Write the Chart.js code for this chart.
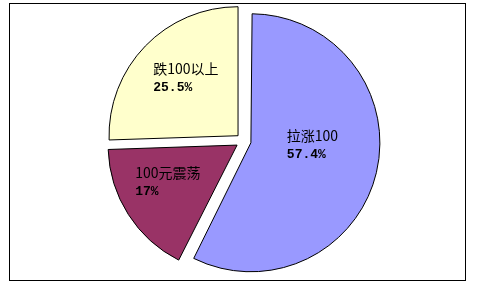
<!DOCTYPE html>
<html>
<head>
<meta charset="utf-8">
<script src="https://cdn.jsdelivr.net/npm/chart.js@4/dist/chart.umd.min.js"></script>
<style>
  html, body { margin: 0; padding: 0; background: #fff; }
  #wrap { width: 478px; height: 289px; }
</style>
</head>
<body>
<div id="wrap"><canvas id="c" width="478" height="289"></canvas></div>
<script>
// ---- data ----
const categories = ['拉涨100', '100元震荡', '跌100以上'];
const values = [57.4, 17, 25.5];
const valueLabels = ['57.4%', '17%', '25.5%'];

// ---- style ----
const colors = ['#9999FF', '#993366', '#FFFFCC'];
const PIE_RADIUS = 129;
const SLICE_OFFSET = 30.4; // Chart.js draws offset/4
const labelShift = [[-30.5, -22.5], [-41.5, -11], [-33, -17]]; // label offset from slice centre point

// keep every slice at the same drawn radius (Chart.js enlarges large offset slices)
const radiusFix = {
  id: 'radiusFix',
  afterDatasetsUpdate(chart) {
    const meta = chart.getDatasetMeta(0);
    meta.data.forEach(arc => {
      const fix = 1 - Math.sin(Math.min(Math.PI, arc.circumference || 0));
      arc.outerRadius = PIE_RADIUS - (SLICE_OFFSET / 4) * fix;
    });
  }
};

const labelPlugin = {
  id: 'sliceLabels',
  afterDatasetsDraw(chart) {
    const ctx = chart.ctx;
    const meta = chart.getDatasetMeta(0);
    ctx.save();
    ctx.fillStyle = '#000';
    ctx.textAlign = 'left';
    ctx.textBaseline = 'middle';
    meta.data.forEach((arc, i) => {
      const p = arc.tooltipPosition();
      const x = p.x + labelShift[i][0];
      const y = p.y + labelShift[i][1];
      ctx.font = '14px "Noto Sans CJK SC", "Noto Sans"';
      ctx.fillText(categories[i], x, y);
      ctx.font = 'bold 13px "Liberation Mono", "DejaVu Sans Mono", monospace';
      ctx.fillText(valueLabels[i], x, y + 19);
    });
    ctx.restore();
  }
};

const framePlugin = {
  id: 'frame',
  afterDraw(chart) {
    const ctx = chart.ctx;
    ctx.save();
    ctx.strokeStyle = '#000';
    ctx.lineWidth = 1;
    ctx.strokeRect(9.5, 3.5, 456, 277);
    ctx.restore();
  }
};

new Chart(document.getElementById('c'), {
  type: 'pie',
  data: {
    labels: categories,
    datasets: [{
      data: values,
      backgroundColor: colors,
      borderColor: '#000',
      borderWidth: 1,
      offset: SLICE_OFFSET,
      hoverOffset: 0
    }]
  },
  options: {
    responsive: false,
    animation: false,
    devicePixelRatio: 1,
    radius: PIE_RADIUS,
    layout: { padding: { left: 9, right: 0, top: 0, bottom: 7 } },
    plugins: {
      legend: { display: false },
      tooltip: { enabled: false }
    }
  },
  plugins: [radiusFix, labelPlugin, framePlugin]
});
</script>
</body>
</html>
